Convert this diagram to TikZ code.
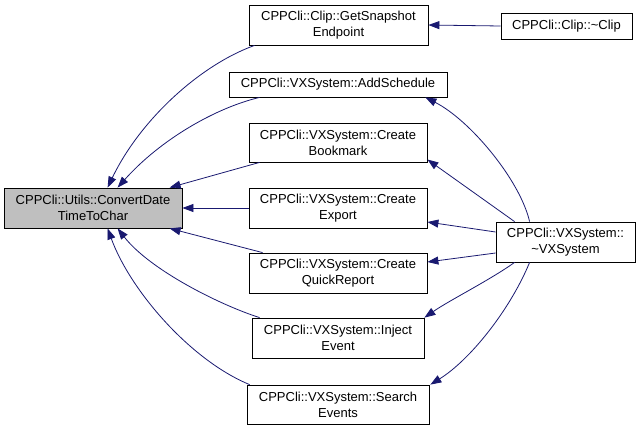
\documentclass[tikz,border=0pt]{standalone}
\usepackage{fontspec}
\setmainfont{Liberation Sans}
\usetikzlibrary{arrows.meta}
\definecolor{edgeblue}{HTML}{191970}
\definecolor{nodegray}{HTML}{BFBFBF}
\tikzset{
  fnbox/.style={draw=black, fill=white, line width=0.8pt, align=center, inner sep=0pt},
  callarrow/.style={draw=edgeblue, line width=0.8pt, ->}
}
\begin{document}
\begin{tikzpicture}[x=1pt, y=-1pt, >={Stealth[length=11pt, width=8pt, inset=0pt]}, font=\fontsize{13}{16}\selectfont]
    \useasboundingbox (0,0) rectangle (643,431);
    % 中心の関数
    \node[fnbox, fill=nodegray, minimum width=178pt, minimum height=40pt] (main) at (93,208) {CPPCli::Utils::ConvertDate\\TimeToChar};
    % 呼び出し元（中段）
    \node[fnbox, minimum width=179pt, minimum height=40pt] (snap) at (338.5,25) {CPPCli::Clip::GetSnapshot\\Endpoint};
    \node[fnbox, minimum width=218pt, minimum height=25pt] (addsch) at (338,84.5) {CPPCli::VXSystem::AddSchedule};
    \node[fnbox, minimum width=178pt, minimum height=39pt] (bookm) at (338,142.5) {CPPCli::VXSystem::Create\\Bookmark};
    \node[fnbox, minimum width=178pt, minimum height=40pt] (expo) at (338,208) {CPPCli::VXSystem::Create\\Export};
    \node[fnbox, minimum width=178pt, minimum height=40pt] (quick) at (338,273) {CPPCli::VXSystem::Create\\QuickReport};
    \node[fnbox, minimum width=172pt, minimum height=40pt] (inject) at (338,338) {CPPCli::VXSystem::Inject\\Event};
    \node[fnbox, minimum width=182pt, minimum height=39pt] (search) at (338,404.5) {CPPCli::VXSystem::Search\\Events};
    % 呼び出し元（右端）
    \node[fnbox, minimum width=131pt, minimum height=26pt] (clip) at (566.5,26) {CPPCli::Clip::\textasciitilde Clip};
    \node[fnbox, minimum width=139pt, minimum height=40pt] (vxs) at (565.5,242) {CPPCli::VXSystem::\\\textasciitilde VXSystem};
    % 中心への矢印
    \draw[callarrow] ([xshift=6pt]snap.south west) .. controls (200,65) and (140,120) .. ([xshift=104pt]main.north west);
    \draw[callarrow] ([xshift=31pt]addsch.south west) .. controls (215,108) and (160,140) .. ([xshift=114pt]main.north west);
    \draw[callarrow] ([xshift=11pt]bookm.south west) -- ([xshift=166pt]main.north west);
    \draw[callarrow] (expo.west) -- (main.east);
    \draw[callarrow] ([xshift=14pt]quick.north west) -- ([xshift=166pt]main.south west);
    \draw[callarrow] ([xshift=8pt]inject.north west) .. controls (220,305) and (150,270) .. ([xshift=114pt]main.south west);
    \draw[callarrow] ([xshift=3pt]search.north west) .. controls (190,360) and (130,290) .. ([xshift=104pt]main.south west);
    % 右端からの矢印
    \draw[callarrow] (clip.west) -- (snap.east);
    \draw[callarrow] ([xshift=34pt]vxs.north west) .. controls (520,180) and (470,120) .. ([xshift=-22pt]addsch.south east);
    \draw[callarrow] ([xshift=19pt]vxs.north west) -- ([yshift=-17pt]bookm.east);
    \draw[callarrow] ([yshift=10pt]vxs.west) -- ([yshift=-14pt]expo.east);
    \draw[callarrow] ([yshift=-11pt]vxs.west) -- ([yshift=11pt]quick.east);
    \draw[callarrow] ([xshift=19pt]vxs.south west) .. controls (490,280) and (450,300) .. (inject.north east);
    \draw[callarrow] ([xshift=34pt]vxs.south west) .. controls (510,310) and (470,360) .. ([xshift=1pt]search.north east);
\end{tikzpicture}
\end{document}
